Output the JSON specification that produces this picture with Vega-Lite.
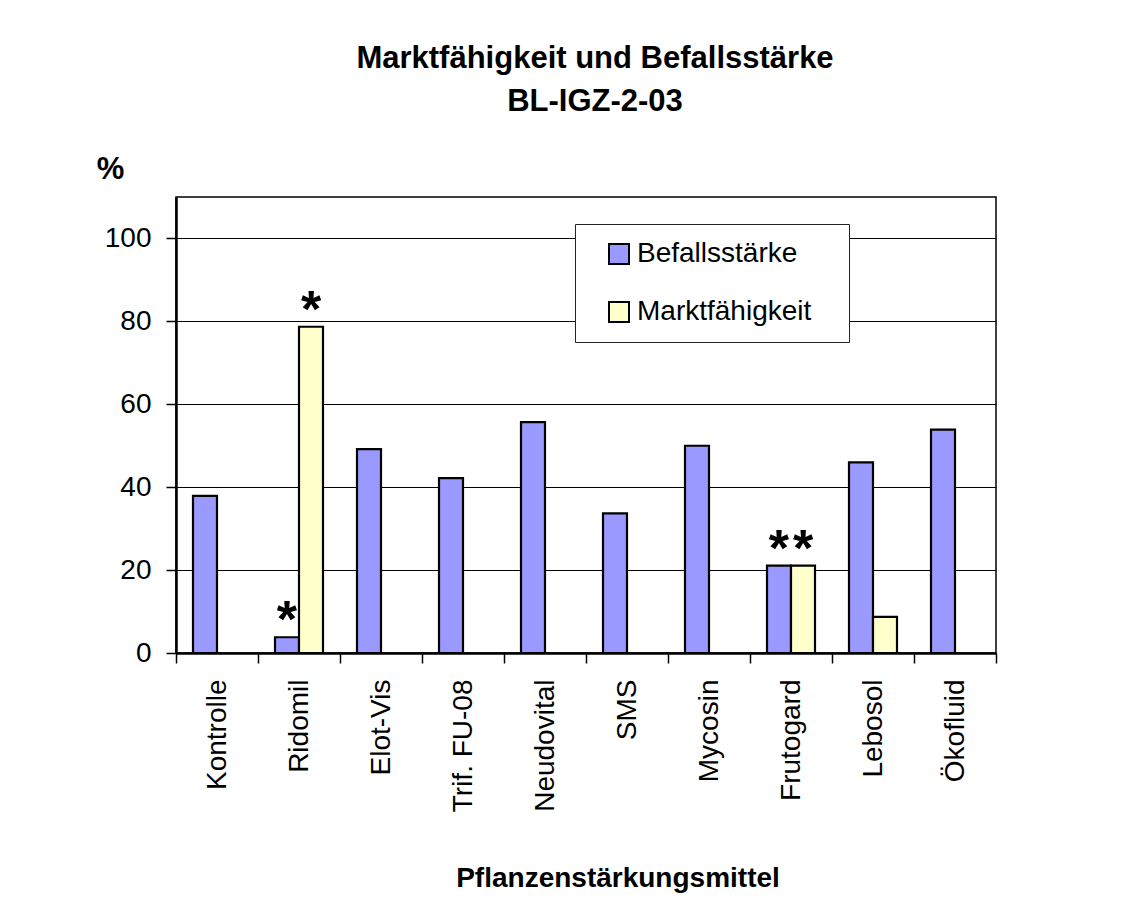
{
  "$schema": "https://vega.github.io/schema/vega-lite/v6.json",
  "autosize": {"type": "none"},
  "padding": {"left": 176, "top": 197, "right": 129, "bottom": 248},
  "width": 820,
  "height": 456,
  "background": "white",
  "title": {
    "text": ["Marktfähigkeit und Befallsstärke", "BL-IGZ-2-03"],
    "fontSize": 31,
    "fontWeight": "bold",
    "font": "Liberation Sans",
    "color": "black",
    "lineHeight": 42.6,
    "frame": "group",
    "anchor": "middle",
    "dx": 9,
    "offset": 35
  },
  "data": {
    "values": [
      {"mittel": "Kontrolle", "serie": "Befallsstärke", "wert": 37.9, "sig": ""},
      {"mittel": "Ridomil", "serie": "Befallsstärke", "wert": 3.8, "sig": "*"},
      {"mittel": "Ridomil", "serie": "Marktfähigkeit", "wert": 78.7, "sig": "*"},
      {"mittel": "Elot-Vis", "serie": "Befallsstärke", "wert": 49.2, "sig": ""},
      {"mittel": "Trif. FU-08", "serie": "Befallsstärke", "wert": 42.2, "sig": ""},
      {"mittel": "Neudovital", "serie": "Befallsstärke", "wert": 55.7, "sig": ""},
      {"mittel": "SMS", "serie": "Befallsstärke", "wert": 33.7, "sig": ""},
      {"mittel": "Mycosin", "serie": "Befallsstärke", "wert": 50.0, "sig": ""},
      {"mittel": "Frutogard", "serie": "Befallsstärke", "wert": 21.1, "sig": "*"},
      {"mittel": "Frutogard", "serie": "Marktfähigkeit", "wert": 21.1, "sig": "*"},
      {"mittel": "Lebosol", "serie": "Befallsstärke", "wert": 46.0, "sig": ""},
      {"mittel": "Lebosol", "serie": "Marktfähigkeit", "wert": 8.7, "sig": ""},
      {"mittel": "Ökofluid", "serie": "Befallsstärke", "wert": 53.9, "sig": ""}
    ]
  },
  "encoding": {
    "x": {
      "field": "mittel",
      "type": "nominal",
      "sort": ["Kontrolle", "Ridomil", "Elot-Vis", "Trif. FU-08", "Neudovital", "SMS", "Mycosin", "Frutogard", "Lebosol", "Ökofluid"],
      "scale": {"paddingInner": 0, "paddingOuter": 0},
      "axis": {
        "title": "Pflanzenstärkungsmittel",
        "titleFontSize": 28,
        "titleFontWeight": "bold",
        "titleColor": "black",
        "titleX": 441.5,
        "titleY": 233,
        "titleAlign": "center",
        "titleBaseline": "alphabetic",
        "labelAngle": -90,
        "labelFontSize": 28,
        "labelColor": "black",
        "labelPadding": 16,
        "labelLimit": 300,
        "tickBand": "extent",
        "tickSize": 10,
        "tickColor": "black",
        "tickWidth": 1.5,
        "domainColor": "black",
        "domainWidth": 2.5,
        "grid": false
      }
    },
    "xOffset": {
      "field": "serie",
      "type": "nominal",
      "sort": ["Befallsstärke", "Marktfähigkeit"],
      "scale": {"domain": ["Befallsstärke", "Marktfähigkeit"], "paddingInner": 0, "paddingOuter": 0.7083}
    },
    "y": {
      "field": "wert",
      "type": "quantitative",
      "scale": {"domain": [0, 110], "nice": false},
      "axis": {
        "title": "%",
        "titleAngle": 0,
        "titleFontSize": 31,
        "titleFontWeight": "bold",
        "titleColor": "black",
        "titleX": -66,
        "titleY": -19,
        "titleAlign": "center",
        "titleBaseline": "alphabetic",
        "values": [0, 20, 40, 60, 80, 100],
        "labelFontSize": 28,
        "labelColor": "black",
        "labelPadding": 15,
        "tickSize": 10,
        "tickColor": "black",
        "tickWidth": 1.5,
        "domainColor": "black",
        "domainWidth": 2.5,
        "grid": true,
        "gridColor": "black",
        "gridWidth": 1.2,
        "gridOpacity": 1
      }
    }
  },
  "layer": [
    {
      "mark": {"type": "bar", "stroke": "black", "strokeWidth": 2.2},
      "encoding": {
        "color": {
          "field": "serie",
          "type": "nominal",
          "scale": {"domain": ["Befallsstärke", "Marktfähigkeit"], "range": ["#9999FF", "#FFFFCC"]},
          "legend": {
            "title": "\u00a0",
            "titleOrient": "right",
            "titlePadding": 22,
            "titleFontSize": 28,
            "orient": "none",
            "legendX": 399,
            "legendY": 27,
            "fillColor": "white",
            "strokeColor": "#222222",
            "padding": 16,
            "symbolType": "square",
            "symbolSize": 400,
            "symbolStrokeColor": "black",
            "symbolStrokeWidth": 2,
            "symbolOffset": 14,
            "labelOffset": 4,
            "labelFontSize": 28,
            "labelColor": "black",
            "labelLimit": 400,
            "rowPadding": 30
          }
        }
      }
    },
    {
      "transform": [{"filter": "datum.sig !== ''"}],
      "mark": {"type": "text", "fontSize": 52, "fontWeight": "bold", "baseline": "alphabetic", "align": "center", "dy": 0, "color": "black"},
      "encoding": {
        "text": {"field": "sig"}
      }
    }
  ],
  "config": {
    "font": "Liberation Sans",
    "view": {"stroke": "black", "strokeWidth": 1.5}
  }
}
